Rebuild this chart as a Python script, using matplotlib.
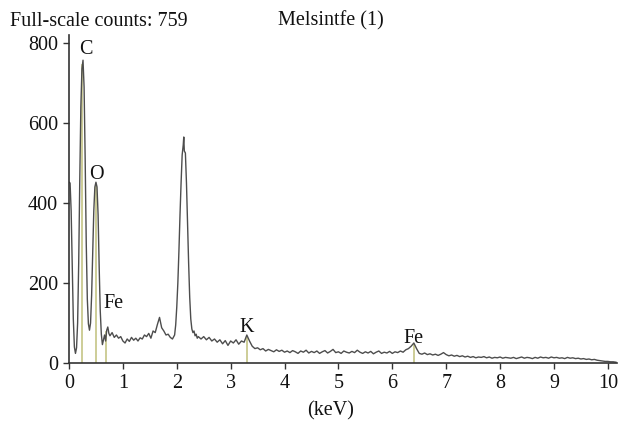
import matplotlib
matplotlib.use('Agg')
import matplotlib.pyplot as plt

# EDS spectrum (keV, counts)
energy_low = [0.00, 0.02, 0.04, 0.06, 0.08, 0.10, 0.12, 0.14, 0.16, 0.18,
              0.20, 0.22, 0.24, 0.26, 0.28, 0.30, 0.32, 0.34, 0.36, 0.38,
              0.40, 0.42, 0.44, 0.46, 0.48, 0.50, 0.52, 0.54, 0.56, 0.58,
              0.60, 0.62, 0.64, 0.66, 0.68, 0.70, 0.72, 0.74]
counts_low = [452, 450, 380, 240, 110, 40, 24, 38, 100, 250,
              460, 640, 735, 757, 690, 510, 300, 160, 98, 82,
              100, 170, 280, 380, 440, 452, 440, 370, 240, 130,
              72, 46, 58, 70, 55, 82, 90, 74]

energy_mid = [0.76, 0.80, 0.84, 0.88, 0.92, 0.96, 1.00, 1.04, 1.08, 1.12,
              1.16, 1.20, 1.24, 1.28, 1.32, 1.36, 1.40, 1.44, 1.48, 1.52,
              1.56, 1.60, 1.64, 1.68, 1.72, 1.76, 1.80, 1.84, 1.88, 1.92,
              1.96]
counts_mid = [68, 76, 64, 70, 62, 66, 55, 50, 60, 54,
              64, 57, 62, 55, 63, 60, 70, 66, 74, 62,
              80, 76, 96, 114, 88, 80, 70, 72, 64, 60,
              70]

energy_peak = [1.98, 2.00, 2.02, 2.04, 2.06, 2.08, 2.10, 2.12, 2.13, 2.14,
               2.16, 2.18, 2.20, 2.22, 2.24, 2.26, 2.28, 2.30, 2.32, 2.34,
               2.36, 2.38, 2.40]
counts_peak = [95, 140, 200, 280, 370, 450, 520, 545, 565, 530,
               525, 450, 350, 250, 165, 110, 85, 76, 80, 68,
               72, 62, 66]

energy_high = [2.45, 2.50, 2.55, 2.60, 2.65, 2.70, 2.75, 2.80, 2.85, 2.90,
               2.95, 3.00, 3.05, 3.10, 3.15, 3.20, 3.25, 3.30, 3.35, 3.40,
               3.45, 3.50, 3.55, 3.60, 3.65, 3.70, 3.75, 3.80, 3.85, 3.90,
               3.95, 4.00, 4.05, 4.10, 4.15, 4.20, 4.25, 4.30, 4.35, 4.40,
               4.45, 4.50, 4.55, 4.60, 4.65, 4.70, 4.75, 4.80, 4.85, 4.90,
               4.95, 5.00, 5.05, 5.10, 5.15, 5.20, 5.25, 5.30, 5.35, 5.40,
               5.45, 5.50, 5.55, 5.60, 5.65, 5.70, 5.75, 5.80, 5.85, 5.90,
               5.95, 6.00, 6.05, 6.10, 6.15, 6.20, 6.25, 6.30, 6.35, 6.40,
               6.45, 6.50, 6.55, 6.60, 6.65, 6.70, 6.75, 6.80, 6.85, 6.90,
               6.95, 7.00, 7.05, 7.10, 7.15, 7.20, 7.25, 7.30, 7.35, 7.40,
               7.45, 7.50, 7.55, 7.60, 7.65, 7.70, 7.75, 7.80, 7.85, 7.90,
               7.95, 8.00, 8.05, 8.10, 8.15, 8.20, 8.25, 8.30, 8.35, 8.40,
               8.45, 8.50, 8.55, 8.60, 8.65, 8.70, 8.75, 8.80, 8.85, 8.90,
               8.95, 9.00, 9.05, 9.10, 9.15, 9.20, 9.25, 9.30, 9.35, 9.40,
               9.45, 9.50, 9.55, 9.60, 9.65, 9.70, 9.75, 9.80, 9.85, 9.90,
               9.95, 10.00, 10.05, 10.10, 10.15]
counts_high = [60, 66, 58, 64, 55, 60, 52, 58, 48, 56,
               44, 55, 50, 58, 47, 55, 52, 70, 55, 42,
               36, 38, 33, 36, 30, 34, 31, 28, 33, 29,
               32, 27, 30, 26, 31, 28, 24, 30, 27, 32,
               25, 29, 26, 30, 24, 28, 31, 25, 29, 34,
               26, 28, 24, 30, 27, 25, 29, 26, 32, 27,
               24, 28, 25, 29, 23, 27, 30, 24, 27, 25,
               29, 24, 28, 26, 30, 27, 33, 36, 42, 50,
               36, 24, 22, 25, 21, 23, 20, 22, 19, 22,
               26, 21, 18, 20, 17, 19, 16, 18, 15, 17,
               14, 16, 13, 15, 14, 16, 13, 15, 12, 14,
               13, 15, 12, 14, 13, 12, 14, 11, 13, 15,
               12, 14, 13, 11, 14, 12, 15, 13, 14, 12,
               15, 13, 14, 12, 13, 11, 14, 12, 13, 11,
               12, 10, 11, 9, 10, 8, 9, 7, 6, 5,
               4, 4, 3, 3, 2]

# element marker lines and labels
elements = ['C', 'O', 'Fe', 'K', 'Fe']
line_kev = [0.25, 0.51, 0.69, 3.31, 6.40]
line_top = [745, 445, 78, 65, 46]
label_kev = [0.31, 0.50, 0.82, 3.30, 6.40]
label_y = [785, 472, 150, 88, 62]

energy = energy_low + energy_mid + energy_peak + energy_high
counts = counts_low + counts_mid + counts_peak + counts_high

plt.rcParams['font.family'] = ['Liberation Serif', 'DejaVu Serif']
FS = 14.5

fig = plt.figure(figsize=(6.19, 4.25), dpi=100)
ax = fig.add_axes([69/619, 1 - 363/425, (617 - 69)/619, (363 - 35)/425])

line_col = '#c9c98f'
for e, top in zip(line_kev, line_top):
    ax.plot([e, e], [0, top], color=line_col, lw=1.3, zorder=1)

ax.plot(energy, counts, color='#4d4d4d', lw=1.0, zorder=2)

for name, e, y in zip(elements, label_kev, label_y):
    ax.text(e, y, name, fontsize=FS, ha='center', va='center', color='#111111')

ax.set_xlim(0, 10.17)
ax.set_ylim(0, 820)
ax.set_xticks(range(0, 11))
ax.set_yticks([0, 200, 400, 600, 800])
ax.tick_params(direction='out', length=4, width=1, colors='#333333',
               labelsize=FS, labelcolor='#111111', pad=4)
for s in ['top', 'right']:
    ax.spines[s].set_visible(False)
for s in ['left', 'bottom']:
    ax.spines[s].set_color('#333333')
    ax.spines[s].set_linewidth(1.2)

fig.text(10/619, 1 - 21/425, 'Full-scale counts: 759', fontsize=FS,
         va='center', ha='left', color='#111111')
fig.text(278/619, 1 - 21/425, 'Melsintfe (1)', fontsize=FS,
         va='center', ha='left', color='#111111')
fig.text(331/619, 1 - 411/425, '(keV)', fontsize=FS,
         va='center', ha='center', color='#111111')

fig.savefig('out.png', dpi=100)
